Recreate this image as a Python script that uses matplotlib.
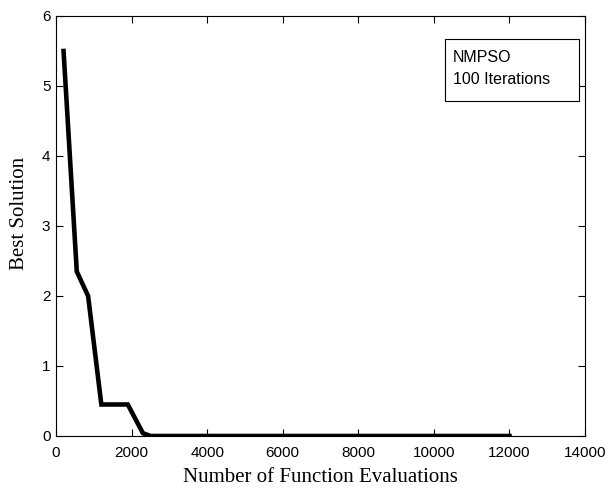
import matplotlib
matplotlib.use('Agg')
import matplotlib.pyplot as plt
from matplotlib.patches import Rectangle

# function evaluations vs best solution found
evals = [200, 550, 850, 1200, 1900, 2300, 2500, 4000, 6000, 8000, 10000, 12000]
best = [5.5, 2.35, 2.0, 0.45, 0.45, 0.04, 0.0, 0.0, 0.0, 0.0, 0.0, 0.0]

xticks = [0, 2000, 4000, 6000, 8000, 10000, 12000, 14000]
yticks = [0, 1, 2, 3, 4, 5, 6]
note_lines = ['NMPSO', '100 Iterations']

fig = plt.figure(figsize=(6.16, 4.95), dpi=100)
ax = fig.add_axes([0.0909, 0.1192, 0.8588, 0.8485])

ax.plot(evals, best, color='black', linewidth=3.3, solid_joinstyle='miter')

ax.set_xlim(0, 14000)
ax.set_ylim(0, 6)
ax.set_xticks(xticks)
ax.set_yticks(yticks)
ax.tick_params(direction='in', top=True, right=True, length=5, width=0.8, labelsize=11)
ax.tick_params(axis='x', pad=7)
ax.tick_params(axis='y', pad=4)
for lab in ax.get_xticklabels() + ax.get_yticklabels():
    lab.set_family('Liberation Sans')
for s in ax.spines.values():
    s.set_linewidth(0.8)

# axis labels (placed like matlab does)
fig.text(0.521, 1 - 478 / 495, 'Number of Function Evaluations', family='Liberation Serif',
         fontsize=15, ha='center', va='center')
fig.text(20 / 616, 1 - 213 / 495, 'Best Solution', family='Liberation Serif',
         fontsize=15, ha='center', va='center', rotation=90)

# text box in upper right
ax.add_patch(Rectangle((0.7353, 0.7976), 0.2534, 0.1476, transform=ax.transAxes,
                       facecolor='white', edgecolor='black', linewidth=0.8, zorder=3))
ax.text(0.7505, 0.90, note_lines[0], transform=ax.transAxes, family='Liberation Sans',
        fontsize=11.5, va='center', ha='left', zorder=4)
ax.text(0.7505, 0.8476, note_lines[1], transform=ax.transAxes, family='Liberation Sans',
        fontsize=11.5, va='center', ha='left', zorder=4)

fig.savefig('out.png', dpi=100)
